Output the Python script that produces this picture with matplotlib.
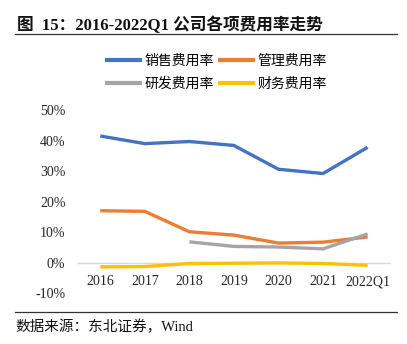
import matplotlib.pyplot as plt
from matplotlib.lines import Line2D

plt.rcParams['font.family'] = ['Liberation Serif', 'Noto Sans CJK SC']
plt.rcParams['axes.unicode_minus'] = False

# 费用率数据 (%)
years = ["2016", "2017", "2018", "2019", "2020", "2021", "2022Q1"]
sales_rate = [41.5, 39.0, 39.7, 38.4, 30.6, 29.2, 37.8]
admin_rate = [17.0, 16.8, 10.1, 9.0, 6.4, 6.7, 8.4]
rd_years = ["2018", "2019", "2020", "2021", "2022Q1"]
rd_rate = [6.8, 5.3, 5.1, 4.5, 9.4]
finance_rate = [-1.4, -1.3, -0.3, -0.2, -0.1, -0.3, -0.9]
y_ticks = [-10, 0, 10, 20, 30, 40, 50]

colors = {"sales": "#4472C4", "admin": "#ED7D31", "rd": "#A5A5A5", "finance": "#FFC000"}

fig = plt.figure(figsize=(4.07, 3.44), dpi=100)
ax = fig.add_axes([0.1916, 0.148, 0.7664, 0.532])

x = list(range(len(years)))
rd_x = [years.index(y) for y in rd_years]
lw = 2.4
ax.plot(x, sales_rate, color=colors["sales"], lw=lw, solid_capstyle="butt")
ax.plot(x, admin_rate, color=colors["admin"], lw=lw, solid_capstyle="butt")
ax.plot(rd_x, rd_rate, color=colors["rd"], lw=lw, solid_capstyle="butt")
ax.plot(x, finance_rate, color=colors["finance"], lw=lw, solid_capstyle="butt")

ax.set_xlim(-0.5, len(years) - 0.5)
ax.set_ylim(-10, 50)
ax.set_yticks(y_ticks)
ax.set_yticklabels([f"{v}%" for v in y_ticks])
ax.set_xticks(x)
ax.set_xticklabels(years)

for side in ["top", "right", "left"]:
    ax.spines[side].set_visible(False)
ax.spines["bottom"].set_position(("data", 0))
ax.spines["bottom"].set_color("#d9d9d9")
ax.spines["bottom"].set_linewidth(1.0)
ax.spines["bottom"].set_zorder(0)

ax.tick_params(axis="both", length=0, labelsize=10, labelcolor="#262626")
ax.tick_params(axis="x", pad=9)
ax.tick_params(axis="y", pad=9)

# 图例 (按列填充, 所以顺序为 销售/研发, 管理/财务)
handles = [
    Line2D([], [], color=colors["sales"], lw=3),
    Line2D([], [], color=colors["rd"], lw=3),
    Line2D([], [], color=colors["admin"], lw=3),
    Line2D([], [], color=colors["finance"], lw=3),
]
labels = ["销售费用率", "研发费用率", "管理费用率", "财务费用率"]
fig.legend(handles, labels, ncol=2, loc="center", bbox_to_anchor=(0.533, 0.789),
           frameon=False, handlelength=2.4, handletextpad=0.3,
           columnspacing=0.45, labelspacing=0.7, prop={"size": 10})

# 标题与来源
fig.text(0.042, 0.925, "图  15：2016-2022Q1 公司各项费用率走势", fontsize=12,
         fontweight="bold", ha="left", va="center", color="#111111")
fig.add_artist(Line2D([0.037, 0.975], [0.900, 0.900], color="#333333", lw=0.9))
fig.add_artist(Line2D([0.037, 0.975], [0.092, 0.092], color="#333333", lw=0.9))
fig.text(0.037, 0.050, "数据来源：东北证券，Wind", fontsize=10.5, ha="left",
         va="center", color="#111111")

fig.savefig("out.png", dpi=100)
